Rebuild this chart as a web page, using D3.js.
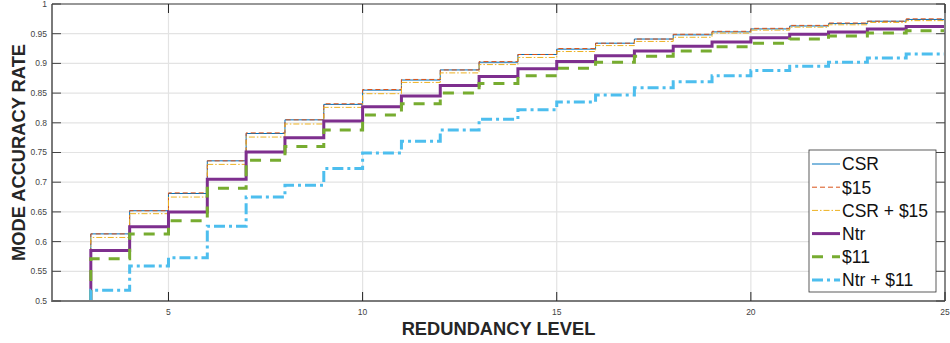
<!DOCTYPE html>
<html>
<head>
<meta charset="utf-8">
<script src="https://cdn.jsdelivr.net/npm/d3@7"></script>
<style>
  html, body { margin: 0; padding: 0; background: #fff; }
  svg { display: block; font-family: "Liberation Sans", Arial, Helvetica, sans-serif; }
</style>
</head>
<body>
<svg id="chart" width="950" height="343"></svg>
<script>
// Redundancy levels (each value holds from level n to n+1)
const levels = [3,4,5,6,7,8,9,10,11,12,13,14,15,16,17,18,19,20,21,22,23,24,25];

const csr     = [0.613,0.652,0.681,0.736,0.782,0.805,0.831,0.855,0.872,0.889,0.902,0.915,0.924,0.934,0.941,0.948,0.953,0.958,0.963,0.967,0.971,0.974,0.974];
const s15     = [0.613,0.652,0.682,0.736,0.783,0.805,0.832,0.856,0.873,0.889,0.903,0.915,0.925,0.934,0.941,0.949,0.954,0.959,0.964,0.968,0.971,0.975,0.975];
const csrS15  = [0.607,0.647,0.675,0.730,0.776,0.798,0.826,0.849,0.868,0.884,0.898,0.910,0.920,0.930,0.937,0.944,0.951,0.956,0.961,0.965,0.969,0.972,0.972];
const ntr     = [0.585,0.625,0.650,0.705,0.751,0.775,0.803,0.827,0.845,0.863,0.878,0.891,0.903,0.913,0.921,0.929,0.936,0.943,0.949,0.953,0.958,0.962,0.962];
const s11     = [0.571,0.613,0.635,0.690,0.737,0.760,0.788,0.813,0.832,0.850,0.866,0.879,0.892,0.902,0.912,0.921,0.928,0.934,0.941,0.946,0.951,0.955,0.955];
const ntrS11  = [0.518,0.559,0.573,0.626,0.675,0.695,0.723,0.749,0.769,0.788,0.806,0.822,0.835,0.847,0.859,0.869,0.879,0.888,0.895,0.902,0.909,0.916,0.916];

const seriesNames = ["CSR", "$15", "CSR + $15", "Ntr", "$11", "Ntr + $11"];
const seriesValues = [csr, s15, csrS15, ntr, s11, ntrS11];
const seriesColors = ["#0072BD", "#D95319", "#EDB120", "#7E2F8E", "#77AC30", "#4DBEEE"];
const seriesWidths = [1, 1, 1, 3, 3, 3];
const seriesDash   = [null, "5,3", "6,2,1.5,2", null, "11,9", "11,4,3,4"];

const xTicks = [5, 10, 15, 20, 25];
const yTicks = [0.5,0.55,0.6,0.65,0.7,0.75,0.8,0.85,0.9,0.95,1];
const xTitle = "REDUNDANCY LEVEL";
const yTitle = "MODE ACCURACY RATE";

const svg = d3.select("#chart");
const L = 52, R = 945, T = 4, B = 301;
const x = d3.scaleLinear().domain([2, 25]).range([L, R]);
const y = d3.scaleLinear().domain([0.5, 1]).range([B, T]);

// grid
const grid = svg.append("g");
grid.selectAll("line.gy").data(yTicks.slice(1, -1)).join("line")
  .attr("x1", L).attr("x2", R).attr("y1", d => y(d)).attr("y2", d => y(d))
  .attr("stroke", "#e3e3e3").attr("stroke-width", 1.2);
grid.selectAll("line.gx").data(xTicks.slice(0, -1)).join("line")
  .attr("y1", T).attr("y2", B).attr("x1", d => x(d)).attr("x2", d => x(d))
  .attr("stroke", "#e3e3e3").attr("stroke-width", 1.2);

// clip
svg.append("clipPath").attr("id", "clip").append("rect")
  .attr("x", L).attr("y", T).attr("width", R - L).attr("height", B - T);

const line = d3.line().curve(d3.curveStepAfter)
  .x(d => x(d[0])).y(d => y(d[1]));

const plot = svg.append("g").attr("clip-path", "url(#clip)");
seriesValues.forEach((vals, i) => {
  const pts = [[levels[0], y.domain()[0]]].concat(levels.map((lv, j) => [lv, vals[j]]));
  plot.append("path")
    .attr("d", line(pts))
    .attr("fill", "none")
    .attr("stroke", seriesColors[i])
    .attr("stroke-width", seriesWidths[i])
    .attr("stroke-dasharray", seriesDash[i]);
});

// axes
const axG = svg.append("g");
axG.append("line").attr("x1", L).attr("x2", L).attr("y1", T).attr("y2", B + 1)
  .attr("stroke", "#7a7a7a").attr("stroke-width", 2);
axG.append("line").attr("x1", L).attr("x2", R).attr("y1", B).attr("y2", B)
  .attr("stroke", "#7a7a7a").attr("stroke-width", 2);
axG.append("line").attr("x1", L).attr("x2", R).attr("y1", T).attr("y2", T)
  .attr("stroke", "#333").attr("stroke-width", 1.2);
axG.append("line").attr("x1", R).attr("x2", R).attr("y1", T).attr("y2", B)
  .attr("stroke", "#888").attr("stroke-width", 2);

axG.selectAll("line.yt").data(yTicks).join("line")
  .attr("x1", L).attr("x2", L + 9).attr("y1", d => y(d)).attr("y2", d => y(d))
  .attr("stroke", "#444").attr("stroke-width", 1);
axG.selectAll("line.ytr").data(yTicks).join("line")
  .attr("x1", R - 9).attr("x2", R).attr("y1", d => y(d)).attr("y2", d => y(d))
  .attr("stroke", "#444").attr("stroke-width", 1);
axG.selectAll("line.xt").data(xTicks).join("line")
  .attr("x1", d => x(d)).attr("x2", d => x(d)).attr("y1", B).attr("y2", B - 9)
  .attr("stroke", "#222").attr("stroke-width", 1);
axG.selectAll("line.xtt").data(xTicks).join("line")
  .attr("x1", d => x(d)).attr("x2", d => x(d)).attr("y1", T).attr("y2", T + 9)
  .attr("stroke", "#222").attr("stroke-width", 1);

// tick labels
svg.append("g").selectAll("text").data(yTicks).join("text")
  .attr("x", L - 5).attr("y", d => y(d)).attr("dy", "0.35em")
  .attr("text-anchor", "end").attr("font-size", 8.5).attr("fill", "#444")
  .text(d => d3.format("")(d));
svg.append("g").selectAll("text").data(xTicks).join("text")
  .attr("x", d => x(d)).attr("y", B + 14)
  .attr("text-anchor", "middle").attr("font-size", 8.5).attr("fill", "#444")
  .text(d => d);

// titles
svg.append("text").attr("x", (L + R) / 2).attr("y", 335)
  .attr("text-anchor", "middle").attr("font-size", 18.3).attr("font-weight", "bold")
  .attr("fill", "#262626").text(xTitle);
svg.append("text").attr("transform", `translate(24.5,${(T + B) / 2}) rotate(-90)`)
  .attr("text-anchor", "middle").attr("font-size", 18.3).attr("font-weight", "bold")
  .attr("fill", "#262626").text(yTitle);

// legend
const lg = svg.append("g").attr("transform", "translate(809,150)");
lg.append("rect").attr("x", 0).attr("y", 0).attr("width", 127).attr("height", 142)
  .attr("fill", "#fff").attr("stroke", "#333").attr("stroke-width", 0.8);
seriesNames.forEach((n, i) => {
  const cy = 14 + i * 23.2;
  lg.append("line").attr("x1", 3).attr("x2", 31).attr("y1", cy).attr("y2", cy)
    .attr("stroke", seriesColors[i]).attr("stroke-width", seriesWidths[i])
    .attr("stroke-dasharray", seriesDash[i]);
  lg.append("text").attr("x", 33).attr("y", cy).attr("dy", "0.36em")
    .attr("font-size", 17.5).attr("fill", "#111").text(n);
});
</script>
</body>
</html>
